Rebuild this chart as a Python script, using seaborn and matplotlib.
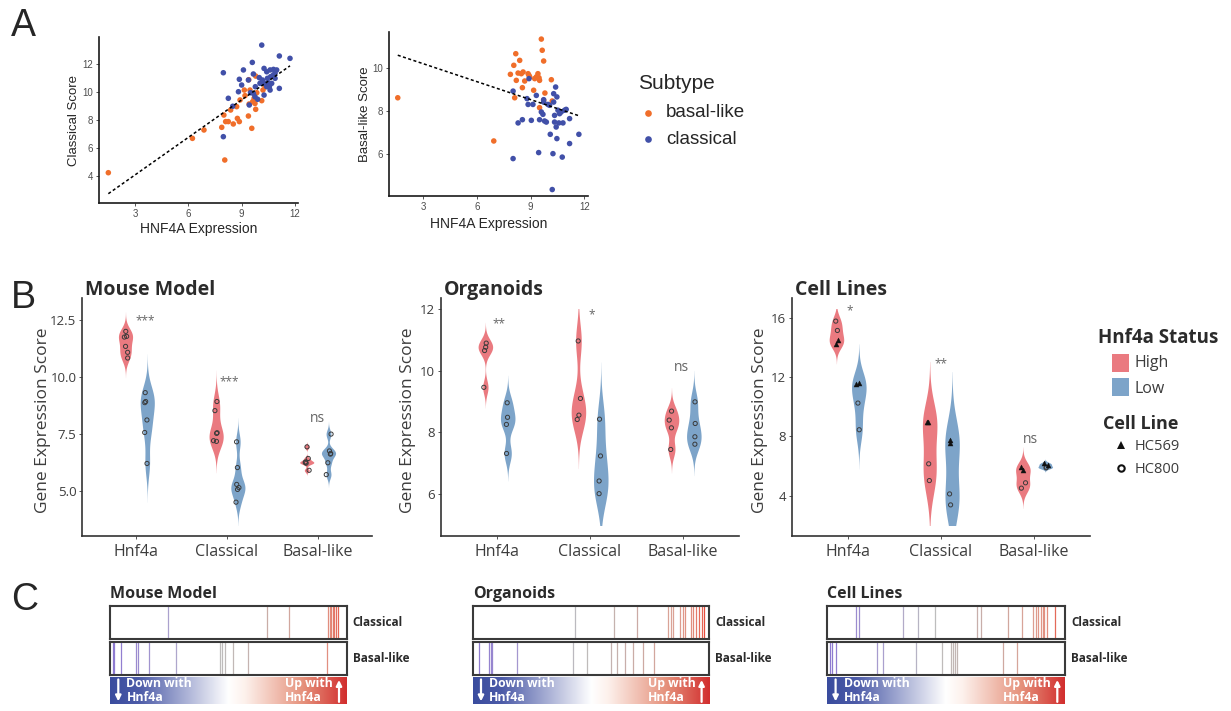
import numpy as np
import pandas as pd
import matplotlib
matplotlib.use('Agg')
import matplotlib.pyplot as plt
from matplotlib.colors import LinearSegmentedColormap
from matplotlib.patches import Rectangle
import seaborn as sns

W, H = 1231, 711

# ---------------- A: scatter data ----------------
a1_basal_x = [1.5, 6.23, 6.88, 8.05, 7.88, 8.0, 8.1, 8.25, 8.38, 8.53, 8.72, 8.76, 8.87, 8.91, 9.15,
              9.19, 9.38, 9.42, 9.47, 9.57, 9.62, 9.7, 9.75, 9.85, 9.79, 10.13, 10.2, 10.32, 9.79, 9.4]
a1_basal_y = [4.24, 6.7, 7.3, 5.15, 7.49, 8.37, 7.9, 7.9, 8.73, 7.73, 8.97, 8.13, 7.9, 9.45, 10.16,
              9.76, 8.3, 9.16, 10.16, 7.42, 9.33, 9.57, 9.2, 9.97, 8.78, 9.4, 10.16, 10.4, 11.16, 10.9]
a1_classical_x = [7.97, 7.97, 8.25, 8.5, 8.82, 8.87, 9.0, 9.1, 9.38, 9.43, 9.5, 9.6, 9.66, 9.66, 9.75,
                  9.9, 9.77, 9.99, 10.13, 10.17, 10.26, 10.26, 10.32, 10.41, 10.45, 10.5, 10.56, 10.6,
                  10.63, 10.69, 10.79, 10.88, 10.97, 10.78, 11.12, 11.12, 11.72, 10.26, 10.41, 10.03,
                  10.6, 10.88]
a1_classical_y = [6.82, 11.4, 9.57, 9.0, 10.04, 10.93, 10.52, 11.6, 10.88, 9.09, 9.97, 12.14, 11.31, 9.92,
                  9.68, 9.5, 10.4, 11.05, 13.38, 10.88, 9.8, 11.71, 10.64, 11.47, 11.0, 10.69, 10.4, 11.6,
                  11.12, 10.64, 11.64, 11.36, 11.6, 11.24, 12.6, 10.28, 12.43, 10.64, 10.4, 10.64,
                  10.16, 11.0]

a2_basal_x = [1.57, 6.94, 8.17, 8.06, 8.39, 7.87, 8.2, 8.3, 8.48, 8.58, 8.67, 8.54, 8.11, 8.86, 8.91,
              8.95, 9.23, 9.41, 9.47, 9.6, 9.65, 9.73, 9.5, 9.17, 9.5, 9.73, 9.8, 10.16, 10.21, 9.32]
a2_basal_y = [8.6, 6.59, 10.65, 10.11, 10.34, 9.69, 9.41, 9.75, 9.72, 9.8, 9.38, 9.07, 8.6, 9.72, 9.64,
              9.57, 9.49, 9.72, 9.53, 11.33, 10.81, 10.31, 9.41, 8.95, 8.14, 8.48, 8.82, 9.44, 8.45, 9.57]
a2_classical_x = [8.02, 8.02, 8.3, 8.54, 8.8, 8.86, 8.91, 9.04, 9.13, 9.32, 9.45, 9.5, 9.6, 9.69, 9.73,
                  9.78, 9.88, 9.97, 10.06, 10.1, 10.21, 10.25, 10.29, 10.34, 10.34, 10.4, 10.43, 10.47,
                  10.47, 10.53, 10.58, 10.62, 10.71, 10.77, 10.81, 10.9, 10.99, 11.18, 11.18, 11.7,
                  9.73, 10.29]
a2_classical_y = [8.91, 5.77, 7.43, 7.58, 8.56, 8.29, 9.49, 7.55, 8.29, 8.71, 6.05, 7.58, 7.94, 7.83, 8.51,
                  7.52, 7.47, 8.29, 8.25, 6.9, 4.33, 6.0, 8.79, 7.78, 7.47, 9.1, 7.24, 6.7,
                  8.64, 8.02, 7.43, 7.86, 7.94, 5.84, 7.43, 8.02, 8.06, 6.47, 7.63, 6.9,
                  8.4, 8.4]

# ---------------- B: violin data ----------------
genes = ['Hnf4a', 'Classical', 'Basal-like']

mouse_high = {'Hnf4a': [12.01, 11.79, 11.76, 11.35, 11.09, 10.84],
              'Classical': [8.93, 8.53, 7.56, 7.53, 7.21, 7.18],
              'Basal-like': [6.94, 6.43, 6.28, 6.25, 6.22, 5.91]}
mouse_low = {'Hnf4a': [9.32, 8.93, 8.88, 8.12, 7.57, 6.21],
             'Classical': [7.16, 6.03, 5.29, 5.15, 5.07, 4.51],
             'Basal-like': [7.5, 6.76, 6.65, 6.62, 6.24, 5.72]}

org_high = {'Hnf4a': [10.89, 10.76, 10.65, 9.46],
            'Classical': [10.96, 9.1, 8.56, 8.42],
            'Basal-like': [8.69, 8.4, 8.15, 7.45]}
org_low = {'Hnf4a': [8.96, 8.49, 8.26, 7.32],
           'Classical': [8.43, 7.24, 6.43, 6.02],
           'Basal-like': [8.99, 8.29, 7.86, 7.62]}

cell_line_ids = ['HC800', 'HC800', 'HC569', 'HC569']
cells_high = {'Hnf4a': [15.77, 15.14, 14.47, 14.24],
              'Classical': [6.14, 5.01, 8.95, 8.95],
              'Basal-like': [4.86, 4.5, 5.91, 5.69]}
cells_low = {'Hnf4a': [10.24, 8.44, 11.59, 11.5],
             'Classical': [4.11, 3.37, 7.72, 7.54],
             'Basal-like': [5.91, 5.87, 6.18, 6.07]}

# ---------------- C: barcode positions ----------------
mouse_classical_pos = [0.244, 0.665, 0.756, 0.920, 0.928, 0.935, 0.942, 0.948, 0.955, 0.962]
mouse_basal_pos = [0.011, 0.017, 0.045, 0.11, 0.117, 0.166, 0.279, 0.465, 0.472, 0.486, 0.518, 0.585, 0.915]
org_classical_pos = [0.432, 0.597, 0.693, 0.827, 0.837, 0.848, 0.876, 0.887, 0.899, 0.921, 0.932, 0.944,
                     0.958, 0.968, 0.977]
org_basal_pos = [0.028, 0.070, 0.077, 0.083, 0.186, 0.423, 0.482, 0.583, 0.608, 0.644, 0.676, 0.721, 0.766]
cells_classical_pos = [0.121, 0.132, 0.32, 0.383, 0.453, 0.631, 0.645, 0.761, 0.818, 0.866, 0.876, 0.888,
                       0.899, 0.906, 0.913, 0.923, 0.958]
cells_basal_pos = [0.011, 0.018, 0.036, 0.21, 0.236, 0.373, 0.481, 0.519, 0.527, 0.537, 0.544, 0.741, 0.797]

# ---------------- styling ----------------
sns.set_theme(style='ticks')
plt.rcParams['font.family'] = ['Open Sans', 'DejaVu Sans']

sub_pal = {'basal-like': '#F06E2A', 'classical': '#4150A8'}
status_pal = {'High': '#EA7A80', 'Low': '#7DA4C9'}

fig = plt.figure(figsize=(W / 100, H / 100), dpi=100)


def add_ax(l, t, r, b):
    return fig.add_axes([l / W, 1 - b / H, (r - l) / W, (b - t) / H])


ov = fig.add_axes([0, 0, 1, 1])
ov.set_xlim(0, W)
ov.set_ylim(H, 0)
ov.axis('off')
ov.set_zorder(10)

for letter, yb in [('A', 36), ('B', 308), ('C', 610)]:
    ov.text(11, yb, letter, fontsize=27, family='Liberation Sans', color='#262626', va='baseline')


# ---------------- A ----------------
def scatter_panel(box, bx, by, cx, cy, xlim, ylim, yticks, ylabel, ylab_x, xlab_y):
    ax = add_ax(*box)
    df = pd.DataFrame({'x': bx + cx, 'y': by + cy,
                       'Subtype': ['basal-like'] * len(bx) + ['classical'] * len(cx)})
    sns.scatterplot(data=df, x='x', y='y', hue='Subtype', palette=sub_pal, s=16,
                    linewidth=0, legend=False, ax=ax)
    sns.regplot(data=df, x='x', y='y', scatter=False, ci=None, color='black',
                line_kws=dict(ls=(0, (2, 1.6)), lw=1.1), ax=ax)
    ax.set_xlim(xlim)
    ax.set_ylim(ylim)
    ax.set_xticks([3, 6, 9, 12])
    ax.set_yticks(yticks)
    ax.set_xlabel('')
    ax.set_ylabel('')
    sns.despine(ax=ax)
    for s in ['left', 'bottom']:
        ax.spines[s].set_linewidth(1.2)
        ax.spines[s].set_color('#1a1a1a')
    ax.tick_params(length=2.5, width=0.7, color='#555555', labelsize=7,
                   labelcolor='#4d4d4d', pad=1.5)
    for t in ax.get_xticklabels() + ax.get_yticklabels():
        t.set_family('Liberation Sans')
    ax.set_facecolor('none')
    l, t_, r, b = box
    ov.text(ylab_x, (t_ + b) / 2, ylabel, rotation=90, ha='center', va='center',
            fontsize=9.5, family='Liberation Sans', color='#262626')
    ov.text((l + r) / 2, xlab_y, 'HNF4A Expression', ha='center', va='center',
            fontsize=10, family='Liberation Sans', color='#262626')


scatter_panel((99, 37, 298, 203), a1_basal_x, a1_basal_y, a1_classical_x, a1_classical_y,
              (0.975, 12.17), (2.07, 13.96), [4, 6, 8, 10, 12], 'Classical Score', 74, 229.5)
scatter_panel((389, 32, 588, 196), a2_basal_x, a2_basal_y, a2_classical_x, a2_classical_y,
              (1.08, 12.21), (4.03, 11.66), [6, 8, 10], 'Basal-like Score', 365.5, 224)

ov.text(638, 89.3, 'Subtype', fontsize=15, family='Liberation Sans', color='#262626', va='baseline')
for (lab, col), yy in zip(sub_pal.items(), [112.7, 139.3]):
    ov.plot([648], [yy], 'o', ms=4.8, color=col, mew=0)
    ov.text(666, yy + 4.6, lab, fontsize=13.5, family='Liberation Sans', color='#262626', va='baseline')


# ---------------- B ----------------
def nrd0(kde):
    x = kde.dataset[0]
    sd = x.std(ddof=1)
    q75, q25 = np.percentile(x, [75, 25])
    lo = min(sd, (q75 - q25) / 1.34)
    if lo <= 0:
        lo = sd
    return 0.9 * lo * len(x) ** -0.2 / sd


def long_df(high, low, ids=None):
    rows = []
    for status, grp in [('High', high), ('Low', low)]:
        for g in genes:
            for i, v in enumerate(grp[g]):
                rows.append({'gene': g, 'status': status, 'score': v,
                             'line': ids[i] if ids else 'all'})
    return pd.DataFrame(rows)


def shrink_dodge(ax, first):
    for c in ax.collections[first:]:
        off = np.asarray(c.get_offsets()).copy()
        if len(off) == 0:
            continue
        cx = np.round(off[:, 0])
        off[:, 0] = cx + (off[:, 0] - cx) * 0.6
        c.set_offsets(off)


def violin_panel(box, df, clip, ylim, yticks, title, ylab_x, marks, markers):
    ax = add_ax(*box)
    sns.violinplot(data=df, x='gene', y='score', hue='status', order=genes,
                   hue_order=['High', 'Low'], palette=status_pal, saturation=1,
                   width=0.48, gap=0.35, inner=None, linewidth=0, cut=3,
                   density_norm='width', bw_method=nrd0, legend=False, ax=ax)
    for c in ax.collections:
        c.set_clip_path(Rectangle((-2, clip[0]), 6, clip[1] - clip[0], transform=ax.transData))
    for line_id, marker in markers:
        sub = df if line_id is None else df[df['line'] == line_id]
        n0 = len(ax.collections)
        sns.stripplot(data=sub, x='gene', y='score', hue='status', order=genes,
                      hue_order=['High', 'Low'], dodge=True, jitter=0.1,
                      palette={'High': 'k', 'Low': 'k'}, marker=marker,
                      size=3.6 if marker == '^' else 3.0, legend=False, ax=ax)
        shrink_dodge(ax, n0)
        for c in ax.collections[n0:]:
            if marker == '^':
                c.set_facecolor('#111111')
                c.set_edgecolor('#111111')
                c.set_linewidth(0.3)
            else:
                c.set_facecolor('none')
                c.set_edgecolor('#3a3a3a')
                c.set_linewidth(0.7)
    ax.set_xlim(-0.6, 2.6)
    ax.set_ylim(ylim)
    ax.set_yticks(yticks)
    if isinstance(yticks[0], float):
        ax.set_yticklabels([f'{v:.1f}' for v in yticks])
    ax.set_xlabel('')
    ax.set_ylabel('')
    sns.despine(ax=ax)
    for s in ['left', 'bottom']:
        ax.spines[s].set_linewidth(1.2)
        ax.spines[s].set_color('#333333')
    ax.tick_params(axis='y', length=2.5, width=0.7, color='#555555', labelsize=9.5,
                   labelcolor='#3c3c3c', pad=1.5)
    ax.tick_params(axis='x', length=2.5, width=0.7, color='#555555', labelsize=11.5,
                   labelcolor='#3c3c3c', pad=3)
    ax.set_facecolor('none')
    l, t_, r, b = box
    ov.text(l + 3, 295, title, fontsize=14, fontweight='bold', color='#2b2b2b', va='baseline')
    ov.text(ylab_x, 420, 'Gene Expression Score', rotation=90, ha='center', va='center',
            fontsize=12.5, color='#3c3c3c')
    for x, y, s in marks:
        ov.text(x, y, s, ha='center', va='baseline', color='#666666',
                fontsize=8.5 if '*' in s else 10)
    return ax


np.random.seed(3)
violin_panel((82, 298, 372, 536), long_df(mouse_high, mouse_low), (3.5, 13.0), (3.025, 13.475),
             [5.0, 7.5, 10.0, 12.5], 'Mouse Model', 43.5,
             [(145, 324, '***'), (229, 385, '***'), (317, 422, 'ns')], [(None, 'o')])
violin_panel((440.7, 298, 738.5, 536), long_df(org_high, org_low), (5.0, 12.0), (4.65, 12.35),
             [6, 8, 10, 12], 'Organoids', 408,
             [(499, 327.5, '**'), (591.7, 318, '*'), (681.7, 371, 'ns')], [(None, 'o')])
violin_panel((791.7, 298, 1090, 536), long_df(cells_high, cells_low, cell_line_ids), (2.0, 16.6),
             (1.27, 17.33), [4, 8, 12, 16], 'Cell Lines', 759.7,
             [(850, 314, '*'), (940.7, 367.5, '**'), (1030, 443, 'ns')],
             [('HC800', 'o'), ('HC569', '^')])

# B legend
ov.text(1098, 343.3, 'Hnf4a Status', fontsize=13.5, fontweight='bold', color='#2b2b2b', va='baseline')
for (lab, col), top, base in zip(status_pal.items(), [354, 378.3], [367.3, 393.3]):
    ov.add_patch(Rectangle((1111.7, top), 17.6, 17.7, color=col, lw=0))
    ov.text(1135, base, lab, fontsize=11.5, color='#3c3c3c', va='baseline')
ov.text(1102.7, 429.3, 'Cell Line', fontsize=13, fontweight='bold', color='#2b2b2b', va='baseline')
ov.plot([1120.7], [445], '^', ms=5.8, color='#111111', mew=0)
ov.plot([1120.7], [468.3], 'o', ms=4.6, mfc='none', mec='#111111', mew=1.5)
ov.text(1135, 450, 'HC569', fontsize=10.5, color='#3c3c3c', va='baseline')
ov.text(1135, 473.3, 'HC800', fontsize=10.5, color='#3c3c3c', va='baseline')

# ---------------- C ----------------
bar_cmap = LinearSegmentedColormap.from_list(
    'bar', [(0, '#8C78D0'), (0.25, '#ACA2CE'), (0.45, '#BDBDBD'), (0.7, '#CBAAA4'),
            (0.85, '#DBA295'), (0.93, '#E28C7C'), (0.97, '#E5604F'), (1, '#E8251C')])
grad_cmap = LinearSegmentedColormap.from_list(
    'grad', [(0, '#3A4C9E'), (0.12, '#4C5BA8'), (0.5, '#FFFFFF'), (0.57, '#FDF1EC'),
             (0.82, '#E5907A'), (1, '#D22E2E')])


def barcode_panel(l, r, title, classical_pos, basal_pos):
    ov.text(l, 598.5, title, fontsize=11.5, fontweight='bold', color='#2b2b2b', va='baseline')
    for t, b, pos, lab in [(606.3, 639.3, classical_pos, 'Classical'),
                           (642.3, 675, basal_pos, 'Basal-like')]:
        ax = add_ax(l, t, r, b)
        pos = np.array(pos)
        ax.vlines(pos, 0, 1, colors=bar_cmap(pos), lw=0.9)
        ax.set_xlim(0, 1)
        ax.set_ylim(0, 1)
        ax.set_xticks([])
        ax.set_yticks([])
        for s in ax.spines.values():
            s.set_linewidth(1.5)
            s.set_color('#3a3a3a')
        ov.text(r + 6, (t + b) / 2, lab, fontsize=8.5, fontweight='bold', color='#2b2b2b',
                va='center')
    gax = add_ax(l, 677.3, r, 704)
    gax.imshow(np.linspace(0, 1, 256)[None, :], cmap=grad_cmap, aspect='auto',
               extent=(0, 1, 0, 1))
    gax.set_xlim(0, 1)
    gax.set_ylim(0, 1)
    gax.axis('off')
    w = r - l
    gax.text(16.5 / w, 0.5, 'Down with\nHnf4a', transform=gax.transAxes, ha='left', va='center',
             color='white', fontsize=8.8, fontweight='bold', linespacing=1.1)
    gax.text(1 - 14 / w, 0.5, 'Up with\nHnf4a', transform=gax.transAxes, ha='right', va='center',
             multialignment='left', color='white', fontsize=8.8, fontweight='bold', linespacing=1.1)
    gax.annotate('', xy=(8.3 / w, 0.1), xytext=(8.3 / w, 0.92), xycoords='axes fraction',
                 arrowprops=dict(arrowstyle='-|>', color='white', lw=1.6, mutation_scale=8,
                                 shrinkA=0, shrinkB=0))
    gax.annotate('', xy=(1 - 7.7 / w, 0.9), xytext=(1 - 7.7 / w, 0.08), xycoords='axes fraction',
                 arrowprops=dict(arrowstyle='-|>', color='white', lw=1.6, mutation_scale=8,
                                 shrinkA=0, shrinkB=0))


barcode_panel(110, 346.7, 'Mouse Model', mouse_classical_pos, mouse_basal_pos)
barcode_panel(472.7, 709.3, 'Organoids', org_classical_pos, org_basal_pos)
barcode_panel(827.3, 1065, 'Cell Lines', cells_classical_pos, cells_basal_pos)

fig.savefig('out.png', dpi=100)
